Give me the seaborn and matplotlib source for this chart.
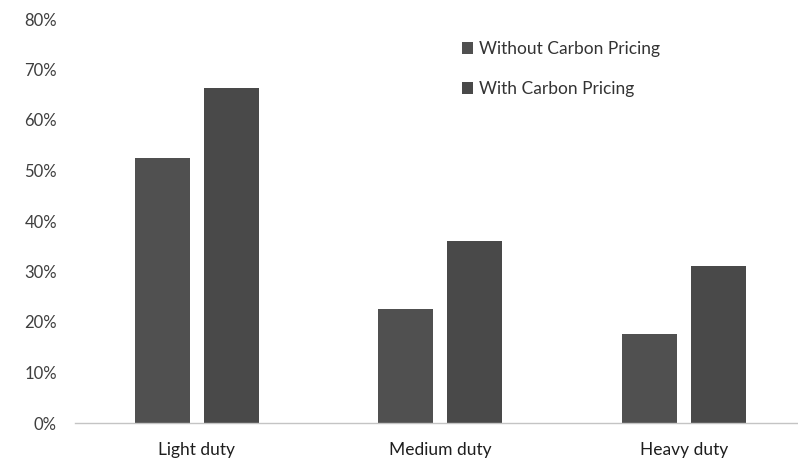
import matplotlib
matplotlib.use("Agg")
import matplotlib.pyplot as plt
import seaborn as sns
import pandas as pd
from matplotlib.ticker import PercentFormatter

categories = ["Light duty", "Medium duty", "Heavy duty"]
series = ["Without Carbon Pricing", "With Carbon Pricing"]
without_pricing = [0.525, 0.226, 0.177]
with_pricing = [0.663, 0.361, 0.310]

df = pd.DataFrame({
    "category": categories * 2,
    "scenario": [series[0]] * 3 + [series[1]] * 3,
    "share": without_pricing + with_pricing,
})

sns.set_theme(style="white")
plt.rcParams["font.family"] = ["Lato", "DejaVu Sans"]

fig = plt.figure(figsize=(7.98, 4.63), dpi=100)
ax = fig.add_axes([75 / 798, 40 / 463, (798 - 75) / 798, 404 / 463])

sns.barplot(
    data=df, x="category", y="share", hue="scenario",
    palette=["#505050", "#494949"], width=0.567, gap=0.2,
    saturation=1, ax=ax, legend=True, edgecolor="none",
)

ax.set_xlim(-0.5, 2.469)
ax.set_ylim(0, 0.8)
ax.set_yticks([i / 10 for i in range(9)])
ax.yaxis.set_major_formatter(PercentFormatter(1.0, decimals=0))
ax.set_xlabel("")
ax.set_ylabel("")
for side in ["top", "right", "left"]:
    ax.spines[side].set_visible(False)
ax.spines["bottom"].set_color("#c4c4c4")
ax.spines["bottom"].set_linewidth(1.0)
ax.tick_params(axis="y", length=0, pad=13, labelsize=12, labelcolor="#3e3e3e")
ax.tick_params(axis="x", length=0, pad=14, labelsize=12.5, labelcolor="#1e1e1e")

leg = ax.legend(
    loc="upper left", bbox_to_anchor=((455 - 75) / 723, (444 - 55) / 404),
    frameon=False, fontsize=12.5, handlelength=0.65, handleheight=0.65,
    handletextpad=0.35, labelspacing=1.4, borderaxespad=0,
)
for t in leg.get_texts():
    t.set_color("#333333")

fig.savefig("out.png", dpi=100, facecolor="white")
